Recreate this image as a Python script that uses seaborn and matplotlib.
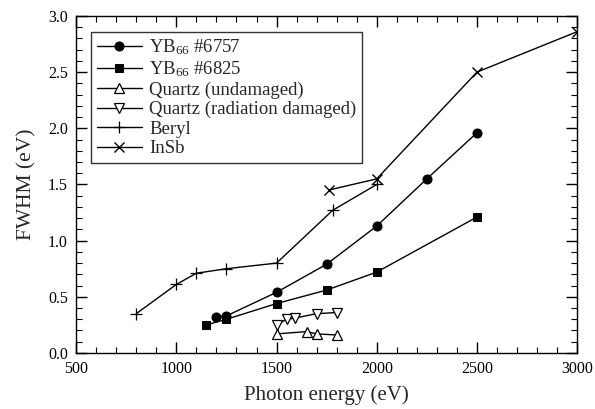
import matplotlib
matplotlib.use("Agg")
import matplotlib.pyplot as plt
import seaborn as sns
import pandas as pd
from matplotlib.ticker import MultipleLocator

# ---- data ----
yb6757_x = [1200, 1250, 1500, 1750, 2000, 2250, 2500]
yb6757_y = [0.32, 0.33, 0.54, 0.79, 1.13, 1.55, 1.96]

yb6825_x = [1150, 1250, 1500, 1750, 2000, 2500]
yb6825_y = [0.25, 0.30, 0.44, 0.56, 0.72, 1.21]

qu_x = [1500, 1650, 1700, 1800]
qu_y = [0.17, 0.19, 0.17, 0.16]

qd_x = [1500, 1550, 1590, 1700, 1800]
qd_y = [0.25, 0.30, 0.31, 0.35, 0.36]

beryl_x = [800, 1000, 1100, 1250, 1500, 1780, 2000]
beryl_y = [0.35, 0.61, 0.71, 0.75, 0.80, 1.27, 1.50]

insb_x = [1760, 2000, 2500, 3000]
insb_y = [1.45, 1.55, 2.50, 2.86]

labels = ["YB$_{66}$ #6757", "YB$_{66}$ #6825", "Quartz (undamaged)",
          "Quartz (radiation damaged)", "Beryl", "InSb"]

sns.set_theme(style="ticks")
plt.rcParams["font.family"] = ["Liberation Serif", "DejaVu Serif"]
plt.rcParams["mathtext.fontset"] = "custom"
plt.rcParams["mathtext.rm"] = "Liberation Serif"
plt.rcParams["mathtext.it"] = "Liberation Serif:italic"
plt.rcParams["mathtext.default"] = "regular"

fig = plt.figure(figsize=(5.95, 4.09), dpi=100)
ax = fig.add_axes([0.128, 0.137, 0.842, 0.824])

series = [
    (yb6757_x, yb6757_y, dict(marker="o", markersize=6.5, markerfacecolor="black", markeredgecolor="black")),
    (yb6825_x, yb6825_y, dict(marker="s", markersize=6, markerfacecolor="black", markeredgecolor="black")),
    (qu_x, qu_y, dict(marker="^", markersize=6.5, markerfacecolor="white", markeredgecolor="black", markeredgewidth=0.9)),
    (qd_x, qd_y, dict(marker="v", markersize=7, markerfacecolor="white", markeredgecolor="black", markeredgewidth=0.9)),
    (beryl_x, beryl_y, dict(marker="+", markersize=8, markeredgecolor="black", markeredgewidth=0.9)),
    (insb_x, insb_y, dict(marker="x", markersize=7, markeredgecolor="black", markeredgewidth=1.0)),
]

for (xs, ys, kw), lab in zip(series, labels):
    df = pd.DataFrame({"x": xs, "y": ys})
    sns.lineplot(data=df, x="x", y="y", ax=ax, color="black", linewidth=1.0,
                 label=lab, sort=False, **kw)

ax.set_xlim(500, 3000)
ax.set_ylim(0.0, 3.0)
ax.xaxis.set_major_locator(MultipleLocator(500))
ax.xaxis.set_minor_locator(MultipleLocator(100))
ax.yaxis.set_major_locator(MultipleLocator(0.5))
ax.yaxis.set_minor_locator(MultipleLocator(0.1))
ax.yaxis.set_major_formatter(matplotlib.ticker.FormatStrFormatter("%.1f"))
ax.tick_params(which="both", direction="in", top=True, right=True, colors="black")
ax.tick_params(which="major", length=8, width=1)
ax.tick_params(which="minor", length=4, width=0.8)
ax.tick_params(axis="both", labelsize=11.5, pad=6)
for s in ax.spines.values():
    s.set_linewidth(1.0)
    s.set_color("black")

ax.set_xlabel("Photon energy (eV)", fontsize=15, labelpad=6)
ax.set_ylabel("FWHM (eV)", fontsize=15.5, labelpad=8)

leg = ax.legend(loc="upper left", bbox_to_anchor=(0.03, 0.9525), fontsize=13.5,
                frameon=True, fancybox=False, edgecolor="black",
                handlelength=2.4, labelspacing=0.12, borderpad=0.3,
                handletextpad=0.4, borderaxespad=0.0)
leg.get_frame().set_linewidth(1.0)

fig.savefig("out.png", dpi=100)
